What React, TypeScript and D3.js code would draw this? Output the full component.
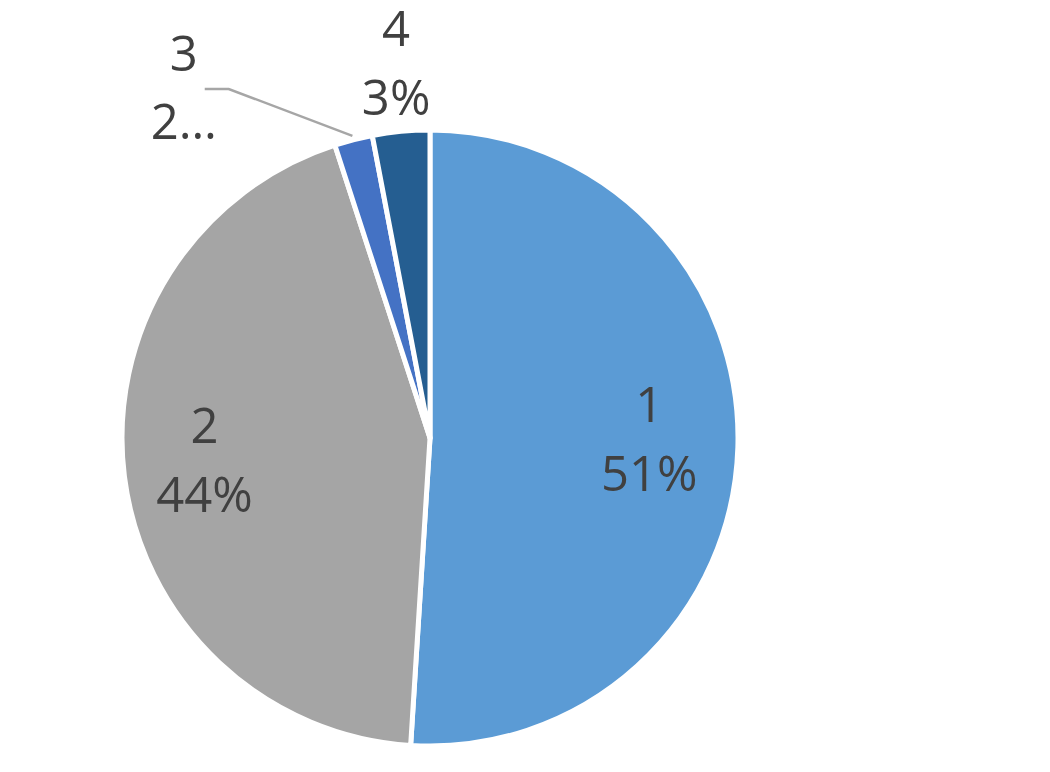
import React, { useEffect, useRef } from "react";
import * as d3 from "d3";

const categories = ["1", "2", "3", "4"];
const values = [51, 44, 2, 3];
const percentLabels = ["51%", "44%", "2…", "3%"];
const colors = ["#5B9BD5", "#A5A5A5", "#4472C4", "#255E91"];

const App = () => {
  const svgRef = useRef<SVGSVGElement | null>(null);

  useEffect(() => {
    const width = 1050;
    const height = 772;
    const cx = 430;
    const cy = 438;
    const radius = 308;
    const textColor = "#404040";
    const fontSize = 49;

    const svg = d3.select(svgRef.current);
    svg.selectAll("*").remove();
    svg.attr("width", width).attr("height", height);

    const data = categories.map((c, i) => ({ name: c, value: values[i], pct: percentLabels[i], color: colors[i] }));

    const pie = d3
      .pie<any>()
      .value((d) => d.value)
      .sort(null);
    const arcs = pie(data);

    const arc = d3.arc<any>().innerRadius(0).outerRadius(radius);
    const labelArc = d3.arc<any>().innerRadius(0).outerRadius(radius * 1.45);

    const g = svg.append("g").attr("transform", `translate(${cx},${cy})`);

    // slices
    g.selectAll("path.slice")
      .data(arcs)
      .enter()
      .append("path")
      .attr("class", "slice")
      .attr("d", arc)
      .attr("fill", (d) => d.data.color)
      .attr("stroke", "white")
      .attr("stroke-width", 5)
      .attr("stroke-linejoin", "round");

    const font = "'Open Sans', 'Noto Sans', sans-serif";

    const drawLabel = (x: number, y: number, d: any, up: number, down: number) => {
      const t = g
        .append("text")
        .attr("text-anchor", "middle")
        .attr("font-family", font)
        .attr("font-size", fontSize)
        .attr("fill", textColor);
      t.append("tspan").attr("x", x).attr("y", y - up).text(d.data.name);
      t.append("tspan").attr("x", x).attr("y", y + down).text(d.data.pct);
    };

    arcs.forEach((d, i) => {
      const mid = (d.startAngle + d.endAngle) / 2;
      if (d.data.value > 10) {
        // inside label
        const [x, y] = labelArc.centroid(d);
        drawLabel(x - 4, y, d, 23, 46);
      } else if (i === 3) {
        // outside label above its slice
        const r = radius + 52;
        const x = r * Math.sin(mid);
        const y = -r * Math.cos(mid);
        drawLabel(x, y, d, 34, 35);
      } else {
        // label moved aside with a leader line
        const r = radius + 107;
        const a = mid - (22 * Math.PI) / 180;
        const x = r * Math.sin(a);
        const y = -r * Math.cos(a);
        drawLabel(x, y, d, 33, 35);
        const sx = (radius + 4) * Math.sin(mid);
        const sy = -(radius + 4) * Math.cos(mid);
        const line = d3.line();
        g.append("path")
          .attr(
            "d",
            line([
              [sx, sy],
              [x + 45, y - 15],
              [x + 21, y - 15],
            ])
          )
          .attr("fill", "none")
          .attr("stroke", "#A6A6A6")
          .attr("stroke-width", 2.5);
      }
    });
  }, []);

  return (
    <svg
      ref={svgRef}
      style={{ position: "absolute", left: 0, top: 0, background: "white" }}
    ></svg>
  );
};

export default App;
